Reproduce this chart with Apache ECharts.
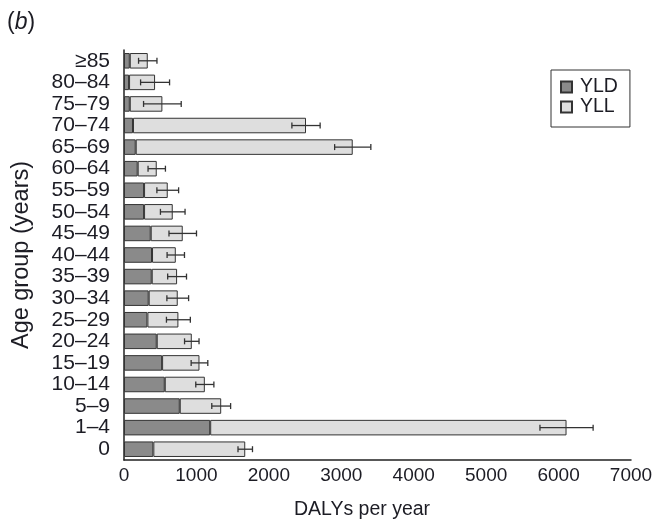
<!DOCTYPE html>
<html>
<head>
<meta charset="utf-8">
<script src="https://cdn.jsdelivr.net/npm/echarts@6/dist/echarts.min.js"></script>
<style>html,body{margin:0;padding:0;background:#fff;}#c{width:658px;height:525px;}</style>
</head>
<body>
<div id="c"></div>
<script>
const categories = ['0','1–4','5–9','10–14','15–19','20–24','25–29','30–34','35–39','40–44','45–49','50–54','55–59','60–64','65–69','70–74','75–79','80–84','≥85'];
const yld = [405, 1190, 770, 563, 526, 452, 323, 341, 383, 387, 369, 277, 277, 189, 162, 124, 80, 70, 80];
const yll = [1269, 4920, 572, 553, 516, 484, 428, 401, 350, 328, 442, 396, 327, 263, 2996, 2389, 450, 359, 248];
const errs = [100, 367, 130, 125, 115, 100, 165, 150, 130, 120, 190, 170, 150, 120, 250, 195, 260, 200, 127];
const xTicks = [0, 1000, 2000, 3000, 4000, 5000, 6000, 7000];

const FONT = 'Liberation Sans, Arial, sans-serif';
const TXT = '#1c1c24';
const chart = echarts.init(document.getElementById('c'), null, {renderer: 'canvas'});
const errData = categories.map((c, i) => [yld[i] + yll[i], i, errs[i]]);

chart.setOption({
  animation: false,
  backgroundColor: '#fff',
  textStyle: {fontFamily: FONT},
  graphic: [{
    type: 'text', left: 7, top: 11,
    style: {
      text: '{n|(}{i|b}{n|)}',
      rich: {
        n: {fontSize: 23, fontFamily: FONT, fill: TXT},
        i: {fontSize: 23, fontFamily: FONT, fontStyle: 'italic', fill: TXT}
      }
    }
  }],
  legend: {
    orient: 'vertical',
    left: 551, top: 70,
    itemWidth: 11, itemHeight: 11, itemGap: 0,
    padding: [7, 12, 10, 9],
    borderColor: '#333', borderWidth: 1, borderRadius: 0,
    icon: 'rect',
    textStyle: {fontSize: 19.5, fontFamily: FONT, color: TXT, padding: [0, 0, 0, 3]},
    data: ['YLD', 'YLL']
  },
  grid: {left: 124, right: 27, top: 50, bottom: 65, containLabel: false},
  xAxis: {
    type: 'value', min: 0, max: 7000, interval: 1000,
    name: 'DALYs per year', nameLocation: 'middle', nameGap: 40,
    nameTextStyle: {fontSize: 19.5, fontFamily: FONT, color: TXT, padding: [0, 31, 0, 0]},
    axisLine: {show: true, lineStyle: {color: '#222', width: 1.5}},
    axisTick: {show: false},
    splitLine: {show: false},
    axisLabel: {fontSize: 19, fontFamily: FONT, color: TXT, margin: 6,
      formatter: v => xTicks.indexOf(v) >= 0 ? String(v) : ''}
  },
  yAxis: {
    type: 'category', data: categories,
    name: 'Age group (years)', nameLocation: 'middle', nameGap: 90, nameRotate: 90,
    nameTextStyle: {fontSize: 23.5, fontFamily: FONT, color: TXT},
    axisLine: {show: true, lineStyle: {color: '#222', width: 1.5}},
    axisTick: {show: false},
    splitLine: {show: false},
    axisLabel: {fontSize: 21, fontFamily: FONT, color: TXT, margin: 14, interval: 0}
  },
  series: [
    {
      name: 'YLD', type: 'bar', stack: 'd', data: yld, barWidth: '72%',
      itemStyle: {color: '#8a8a8a', borderColor: '#333', borderWidth: 1}
    },
    {
      name: 'YLL', type: 'bar', stack: 'd', data: yll, barWidth: '72%',
      itemStyle: {color: '#dedede', borderColor: '#333', borderWidth: 1}
    },
    {
      name: 'err', type: 'custom', data: errData, z: 10,
      encode: {x: 0, y: 1},
      renderItem: function (params, api) {
        const c = api.value(0), i = api.value(1), e = api.value(2);
        const p1 = api.coord([c - e, i]);
        const p2 = api.coord([c + e, i]);
        const h = 3;
        const st = {stroke: '#333', lineWidth: 1.3};
        return {type: 'group', children: [
          {type: 'line', shape: {x1: p1[0], y1: p1[1], x2: p2[0], y2: p2[1]}, style: st},
          {type: 'line', shape: {x1: p1[0], y1: p1[1] - h, x2: p1[0], y2: p1[1] + h}, style: st},
          {type: 'line', shape: {x1: p2[0], y1: p2[1] - h, x2: p2[0], y2: p2[1] + h}, style: st}
        ]};
      }
    }
  ]
});
</script>
</body>
</html>
